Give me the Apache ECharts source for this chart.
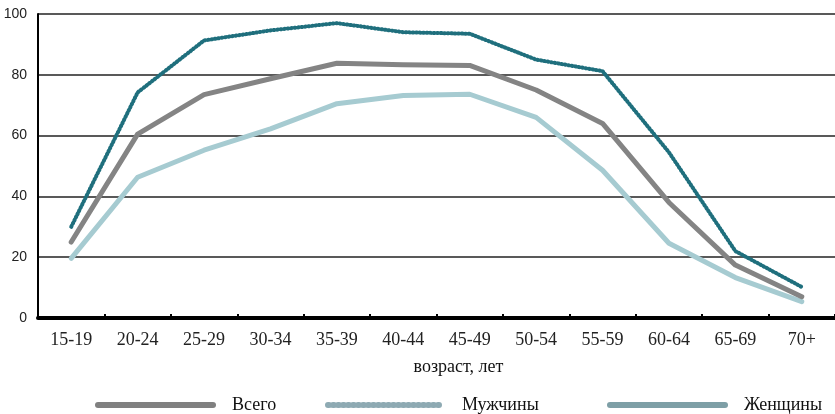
<!DOCTYPE html>
<html><head><meta charset="utf-8">
<script src="https://cdn.jsdelivr.net/npm/echarts@6/dist/echarts.min.js"></script>
<style>html,body{margin:0;padding:0;background:#fff}#c{width:835px;height:414px}</style>
</head><body><div id="c"></div>
<script>
const categories = ['15-19','20-24','25-29','30-34','35-39','40-44','45-49','50-54','55-59','60-64','65-69','70+'];
const yTicks = [0,20,40,60,80,100];
const total = [25, 60.5, 73.5, 78.7, 83.8, 83.3, 83.1, 75, 64, 38, 17.4, 7];
const men = [30, 74.2, 91.3, 94.6, 97, 94, 93.5, 85, 81.2, 54.5, 22, 10.2];
const women = [19.6, 46.3, 55.2, 62.2, 70.5, 73.2, 73.6, 66, 48.6, 24.6, 13.3, 5.4];
const names = ['Всего','Мужчины','Женщины'];

const chart = echarts.init(document.getElementById('c'));
const serif = "'Liberation Serif','Times New Roman',serif";
function legend(name, left, color, type) {
  return {
    data: [{name: name, lineStyle: {color: color, width: 6, type: type, cap: 'round'}, itemStyle: {color: color, opacity: 0}}],
    left: left, top: 391, itemWidth: 115, itemHeight: 14,
    textStyle: {fontFamily: serif, fontSize: 18, color: '#111', padding: [0,0,0,14]},
    selectedMode: false
  };
}
chart.setOption({
  animation: false,
  grid: {left: 38, top: 14, width: 800, height: 304},
  legend: [
    legend(names[0], 90, '#808080', 'solid'),
    legend(names[1], 320, '#8eaab3', [1,4]),
    legend(names[2], 602, '#7e9fa6', 'solid')
  ],
  xAxis: {
    type: 'category', data: categories, boundaryGap: true,
    axisLine: {lineStyle: {color: '#000', width: 4}},
    axisTick: {show: true, inside: true, length: 4, lineStyle: {color: '#000', width: 2}},
    axisLabel: {fontFamily: serif, fontSize: 18, color: '#222', margin: 13},
    name: 'возраст, лет', nameLocation: 'middle', nameGap: 40,
    nameTextStyle: {fontFamily: serif, fontSize: 18, color: '#111', padding: [0,0,0,44]}
  },
  yAxis: {
    type: 'value', min: yTicks[0], max: yTicks[yTicks.length-1], interval: 20,
    axisLine: {show: true, lineStyle: {color: '#000', width: 2}},
    axisTick: {show: false},
    axisLabel: {fontFamily: "'Liberation Sans',Arial,sans-serif", fontSize: 14, color: '#222', margin: 11},
    splitLine: {lineStyle: {color: '#222', width: 1.5}}
  },
  series: [
    {name: names[0], type: 'line', data: total, symbol: 'none', z: 3,
     lineStyle: {color: '#848484', width: 5, cap: 'round', join: 'round'}, itemStyle: {color: '#848484'}},
    {name: names[1], type: 'line', data: men, symbol: 'none', z: 4,
     lineStyle: {color: '#1f6f7d', width: 4, type: [1,2.5], cap: 'round', join: 'round'}, itemStyle: {color: '#1f6f7d'}},
    {name: names[2], type: 'line', data: women, symbol: 'none', z: 2,
     lineStyle: {color: '#a6cbd1', width: 5, cap: 'round', join: 'round'}, itemStyle: {color: '#a6cbd1'}}
  ]
});
</script></body></html>
